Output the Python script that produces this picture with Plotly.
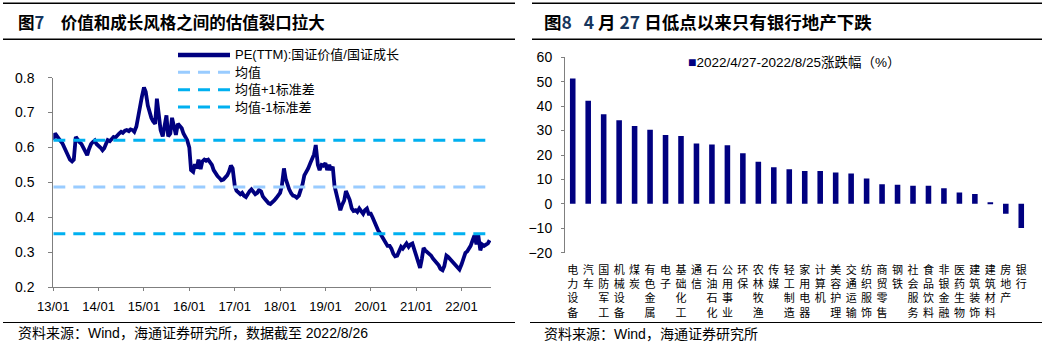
import pandas as pd
import plotly.graph_objects as go

W, H = 1052, 344
FONT = "Liberation Sans, Arial, Noto Sans CJK SC, sans-serif"
CJK_BOLD = "Noto Sans CJK SC, Liberation Sans, sans-serif"

# ---------------- 图7: PE(TTM) 国证价值 / 国证成长 (semi-monthly readings) ----------------
pe_2013 = [0.621, 0.640, 0.632, 0.622, 0.618, 0.612, 0.600, 0.590, 0.575, 0.565, 0.560, 0.565,
           0.630, 0.622, 0.615, 0.610, 0.598, 0.585, 0.578, 0.595, 0.610, 0.615, 0.620, 0.610]
pe_2014 = [0.605, 0.600, 0.592, 0.598, 0.610, 0.621, 0.618, 0.626, 0.630, 0.628, 0.636, 0.640,
           0.645, 0.642, 0.648, 0.650, 0.647, 0.652, 0.650, 0.645, 0.660, 0.690, 0.720, 0.745]
pe_2015 = [0.772, 0.760, 0.720, 0.700, 0.685, 0.675, 0.668, 0.740, 0.700, 0.650, 0.632, 0.665,
           0.692, 0.632, 0.640, 0.685, 0.650, 0.636, 0.668, 0.662, 0.655, 0.640, 0.630, 0.621]
pe_2016 = [0.600, 0.535, 0.530, 0.552, 0.540, 0.565, 0.538, 0.560, 0.565, 0.562, 0.565, 0.558,
           0.550, 0.535, 0.525, 0.518, 0.512, 0.506, 0.508, 0.512, 0.520, 0.530, 0.548, 0.540]
pe_2017 = [0.490, 0.476, 0.472, 0.466, 0.470, 0.462, 0.458, 0.468, 0.475, 0.480, 0.472, 0.466,
           0.470, 0.478, 0.474, 0.460, 0.452, 0.445, 0.440, 0.438, 0.442, 0.448, 0.455, 0.462]
pe_2018 = [0.470, 0.490, 0.540, 0.510, 0.492, 0.480, 0.468, 0.462, 0.460, 0.456, 0.462, 0.475,
           0.495, 0.520, 0.530, 0.540, 0.555, 0.565, 0.580, 0.607, 0.550, 0.535, 0.550, 0.548]
pe_2019 = [0.555, 0.535, 0.550, 0.535, 0.545, 0.490, 0.460, 0.445, 0.420, 0.435, 0.448, 0.475,
           0.462, 0.450, 0.425, 0.418, 0.420, 0.415, 0.425, 0.418, 0.410, 0.420, 0.425, 0.410]
pe_2020 = [0.410, 0.400, 0.385, 0.372, 0.362, 0.355, 0.345, 0.335, 0.325, 0.318, 0.318, 0.310,
           0.295, 0.288, 0.290, 0.305, 0.315, 0.310, 0.318, 0.325, 0.315, 0.322, 0.325, 0.308]
pe_2021 = [0.290, 0.280, 0.255, 0.280, 0.312, 0.305, 0.300, 0.296, 0.290, 0.282, 0.276, 0.268,
           0.262, 0.252, 0.248, 0.260, 0.290, 0.286, 0.280, 0.274, 0.270, 0.263, 0.258, 0.250]
pe_2022 = [0.265, 0.285, 0.298, 0.302, 0.310, 0.318, 0.335, 0.348, 0.322, 0.350, 0.305, 0.322,
           0.318, 0.320, 0.325, 0.334]

pe_ratio = pe_2013 + pe_2014 + pe_2015 + pe_2016 + pe_2017 + pe_2018 + pe_2019 + pe_2020 + pe_2021 + pe_2022
pe_dates = pd.date_range("2013-01-01", periods=len(pe_ratio), freq="SMS")

pe_mean = 0.487
pe_std = 0.134
x_start, x_end = "2013-01-01", "2022-08-26"

# ---------------- 图8: 2022/4/27-2022/8/25 行业涨跌幅 (%) ----------------
industries = ["电力设备", "汽车", "国防军工", "机械设备", "煤炭", "有色金属", "电子", "基础化工",
              "通信", "石油石化", "公用事业", "环保", "农林牧渔", "传媒", "轻工制造", "家用电器",
              "计算机", "美容护理", "交通运输", "纺织服饰", "商贸零售", "钢铁", "社会服务", "食品饮料",
              "非银金融", "医药生物", "建筑装饰", "建筑材料", "房地产", "银行"]
changes = [51.3, 42.2, 36.7, 34.2, 31.9, 30.3, 28.2, 27.8, 24.7, 24.3, 24.0, 20.7, 17.2, 15.0, 14.2,
           13.5, 13.4, 12.8, 12.4, 10.4, 8.0, 7.8, 7.4, 7.4, 6.4, 4.6, 4.0, 0.7, -4.1, -9.9]
vertical_labels = ["<br>".join(name) for name in industries]

NAVY = "#000080"
MEAN_C = "#99CCFF"
STD_C = "#00B0F0"
AXIS_C = "#7F7F7F"
DIGIT_C = "#17365D"


def px_x(v):
    return v / W


def px_y(v):
    return (H - v) / H


fig = go.Figure()

fig.add_trace(go.Scatter(x=pe_dates, y=pe_ratio, mode="lines", xaxis="x", yaxis="y",
                         line=dict(color=NAVY, width=3.8), showlegend=False))
for level, color in [(pe_mean, MEAN_C), (pe_mean + pe_std, STD_C), (pe_mean - pe_std, STD_C)]:
    fig.add_trace(go.Scatter(x=[x_start, x_end], y=[level, level], mode="lines", xaxis="x", yaxis="y",
                             line=dict(color=color, width=3, dash="12px,8px"), showlegend=False))

fig.add_trace(go.Bar(x=vertical_labels, y=changes, xaxis="x2", yaxis="y2",
                     marker=dict(color=NAVY, line=dict(width=0)), width=0.36, showlegend=False))

# bar-chart axis domain / range, used to place the zero axis
y2_dom = [px_y(252.7), px_y(57.3)]
y2_rng = [-20, 60]
zero_pos = y2_dom[0] + (0 - y2_rng[0]) / (y2_rng[1] - y2_rng[0]) * (y2_dom[1] - y2_dom[0])

fig.update_layout(
    width=W, height=H,
    margin=dict(l=0, r=0, t=0, b=0, autoexpand=False),
    paper_bgcolor="white", plot_bgcolor="white",
    font=dict(family=FONT, color="#000000"),
    showlegend=False,
    xaxis=dict(domain=[px_x(53.3), px_x(491)], anchor="y", type="date", automargin=False,
               range=[x_start, x_end], tick0="2013-01-01", dtick="M12", tickformat="%y/%m",
               ticks="outside", ticklen=3, tickcolor=AXIS_C, showline=True, linecolor=AXIS_C,
               showgrid=False, zeroline=False, tickfont=dict(family=FONT, size=13),
               ticklabelstandoff=4),
    yaxis=dict(domain=[px_y(287), px_y(77.7)], anchor="x", range=[0.2, 0.8], dtick=0.1,
               automargin=False,
               tickformat=".1f", ticks="outside", ticklen=4, tickcolor=AXIS_C, showline=True,
               linecolor=AXIS_C, showgrid=False, zeroline=False, tickfont=dict(family=FONT, size=14),
               ticklabelstandoff=11),
    xaxis2=dict(domain=[px_x(565), px_x(1029)], anchor="y2", type="category", range=[-0.5, 29.5],
                automargin=False,
                showline=False, ticks="", showgrid=False, zeroline=False, tickangle=0,
                tickfont=dict(family="Noto Sans CJK SC, sans-serif", size=11),
                ticklabelstandoff=9),
    xaxis3=dict(overlaying="x2", anchor="free", position=zero_pos, range=[-0.5, 29.5],
                automargin=False,
                tickmode="array", tickvals=[i + 0.5 for i in range(len(industries))],
                showticklabels=False, ticks="outside", ticklen=3, tickcolor=AXIS_C,
                showline=True, linecolor=AXIS_C, showgrid=False, zeroline=False),
    yaxis2=dict(domain=y2_dom, anchor="x2", range=y2_rng, dtick=10, ticks="outside", ticklen=3,
                automargin=False,
                tickcolor=AXIS_C, showline=True, linecolor=AXIS_C, showgrid=False, zeroline=False,
                tickfont=dict(family=FONT, size=14), ticklabelstandoff=6),
)

shapes = []
annotations = []

# title / footer rules
for x0, x1 in [(3, 515), (532, 1042)]:
    for yy in (3.3, 39.3):
        shapes.append(dict(type="line", xref="paper", yref="paper", x0=px_x(x0), x1=px_x(x1),
                           y0=px_y(yy), y1=px_y(yy), line=dict(color="#000000", width=1.5)))
for x0, x1 in [(3, 515), (530, 1042)]:
    shapes.append(dict(type="line", xref="paper", yref="paper", x0=px_x(x0), x1=px_x(x1),
                       y0=px_y(322.5), y1=px_y(322.5), line=dict(color="#000000", width=1.2)))

# legend for 图7
legend_items = [
    ("PE(TTM):国证价值/国证成长", NAVY, 4.5, "solid", 55.0),
    ("均值", MEAN_C, 3, "12px,8px", 72.3),
    ("均值+1标准差", STD_C, 3, "12px,8px", 89.7),
    ("均值-1标准差", STD_C, 3, "12px,8px", 107.0),
]
for text, color, width, dash, yy in legend_items:
    shapes.append(dict(type="line", xref="paper", yref="paper", x0=px_x(178), x1=px_x(230),
                       y0=px_y(yy), y1=px_y(yy), line=dict(color=color, width=width, dash=dash)))
    annotations.append(dict(text=text, xref="paper", yref="paper", x=px_x(233), y=px_y(yy),
                            xanchor="left", yanchor="middle", showarrow=False,
                            font=dict(family=FONT, size=13, color="#000000")))

# legend for 图8
annotations.append(dict(
    text=f"<span style='color:{NAVY};font-size:14px'>■</span>2022/4/27-2022/8/25涨跌幅（%）",
    xref="paper", yref="paper", x=px_x(686), y=px_y(62), xanchor="left", yanchor="middle",
    showarrow=False, font=dict(family=FONT, size=13.5, color="#000000")))

# titles
annotations.append(dict(text=f"<b>图<span style='color:{DIGIT_C}'>7</span>　价值和成长风格之间的估值裂口拉大</b>",
                        xref="paper", yref="paper", x=px_x(16), y=px_y(21.7), xanchor="left",
                        yanchor="middle", showarrow=False,
                        font=dict(family=CJK_BOLD, size=16.5, color="#000000")))
annotations.append(dict(text=f"<b>图<span style='color:{DIGIT_C}'>8</span>   <span style='color:{DIGIT_C}'>4</span> 月 "
                             f"<span style='color:{DIGIT_C}'>27</span> 日低点以来只有银行地产下跌</b>",
                        xref="paper", yref="paper", x=px_x(542), y=px_y(21.7), xanchor="left",
                        yanchor="middle", showarrow=False,
                        font=dict(family=CJK_BOLD, size=17.5, color="#000000")))

# sources
annotations.append(dict(text="资料来源：Wind，海通证券研究所，数据截至 2022/8/26", xref="paper", yref="paper",
                        x=px_x(16), y=px_y(332.5), xanchor="left", yanchor="middle", showarrow=False,
                        font=dict(family=FONT, size=14, color="#000000")))
annotations.append(dict(text="资料来源：Wind，海通证券研究所", xref="paper", yref="paper",
                        x=px_x(542), y=px_y(333.5), xanchor="left", yanchor="middle", showarrow=False,
                        font=dict(family=FONT, size=14, color="#000000")))

fig.update_layout(shapes=shapes, annotations=annotations)

fig.write_html("out.html")
